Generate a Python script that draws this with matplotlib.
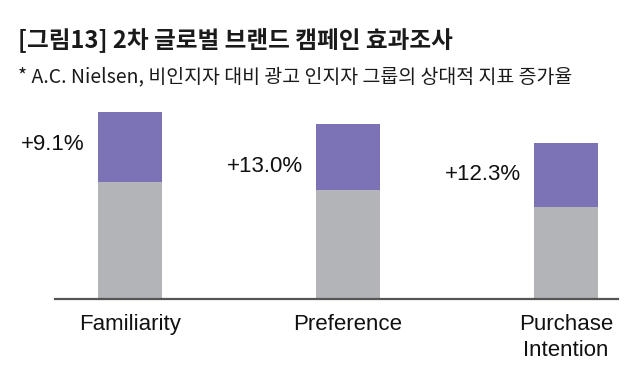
import matplotlib
matplotlib.use("Agg")
import matplotlib.pyplot as plt

categories = ["Familiarity", "Preference", "Purchase\nIntention"]
base_values = [117, 109, 92]
increase_values = [70, 66, 64]
labels = ["+9.1%", "+13.0%", "+12.3%"]

title = "[그림13] 2차 글로벌 브랜드 캠페인 효과조사"
subtitle = "* A.C. Nielsen, 비인지자 대비 광고 인지자 그룹의 상대적 지표 증가율"

kfont = ["Noto Sans CJK KR", "DejaVu Sans"]
lfont = ["Liberation Sans", "DejaVu Sans"]

gray = "#B3B4B7"
purple = "#7B73B5"

fig = plt.figure(figsize=(6.4, 3.8), dpi=100)
ax = fig.add_axes([55/640, 1-299/380, (618-55)/640, 199/380])

x = list(range(len(categories)))
w = 0.294
ax.bar(x, base_values, width=w, color=gray, linewidth=0)
ax.bar(x, increase_values, width=w, bottom=base_values, color=purple, linewidth=0)

offsets = [2, -9, 1]
for i in x:
    yc = base_values[i] + increase_values[i] / 2 + offsets[i]
    ax.text(i - w/2 - 0.06, yc, labels[i], ha="right", va="center",
            fontsize=16, family=lfont, color="#111111")

ax.set_xlim(-0.344, 2.239)
ax.set_ylim(0, 199)
ax.set_xticks(x)
ax.set_xticklabels(categories, family=lfont, fontsize=16, color="#111111", linespacing=1.3)
ax.tick_params(axis="x", length=0, pad=11)
ax.set_yticks([])
for s in ["top", "right", "left"]:
    ax.spines[s].set_visible(False)
ax.spines["bottom"].set_color("#555555")
ax.spines["bottom"].set_linewidth(1.6)

fig.text(18/640, 1-40/380, title, family=kfont, fontsize=17, fontweight="bold",
         va="center", ha="left", color="#1a1a1a")
fig.text(18/640, 1-77/380, subtitle, family=kfont, fontsize=14,
         va="center", ha="left", color="#1a1a1a")

fig.savefig("out.png", dpi=100)
